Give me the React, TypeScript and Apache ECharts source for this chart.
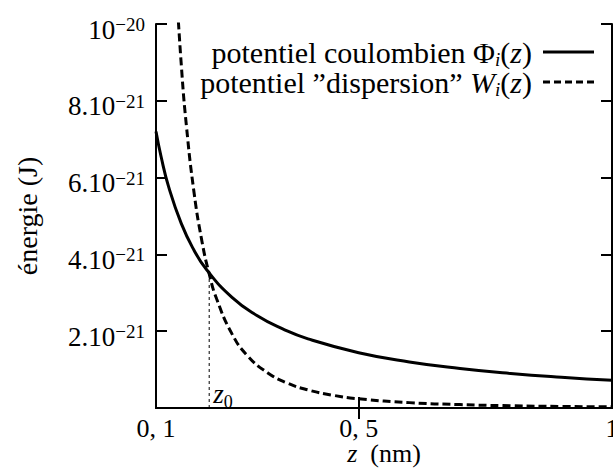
import React, { useEffect, useRef } from "react";
import * as echarts from "echarts";

// z in nm, energies in units of 1e-21 J
const zPhi = [0.1, 0.11, 0.125, 0.15, 0.175, 0.2, 0.25, 0.3, 0.35, 0.4, 0.5, 0.6, 0.7, 0.8, 0.9, 1.0];
const phiValues = [7.2, 6.55, 5.76, 4.8, 4.11, 3.6, 2.88, 2.4, 2.06, 1.8, 1.44, 1.2, 1.03, 0.9, 0.8, 0.72];

const zW = [0.14, 0.15, 0.16, 0.175, 0.19, 0.205, 0.22, 0.25, 0.28, 0.32, 0.36, 0.4, 0.45, 0.5, 0.6, 0.7, 0.8, 0.9, 1.0];
const wValues = [11.0, 8.92, 7.35, 5.62, 4.39, 3.49, 2.83, 1.93, 1.37, 0.92, 0.645, 0.47, 0.33, 0.24, 0.14, 0.088, 0.059, 0.041, 0.03];

const z0 = 0.205;
const z0Energy = 3.55;

const xTickValues = [0.1, 0.5, 1];
const xTickLabels = ["0, 1", "0, 5", "1"];
const yTickValues = [0, 2, 4, 6, 8, 10];
const yTickMantissa = ["", "2.10", "4.10", "6.10", "8.10", "10"];
const yTickExponent = ["", "−21", "−21", "−21", "−21", "−20"];

const FONT = "'Liberation Serif', 'DejaVu Serif', serif";

export default function App() {
  const ref = useRef<HTMLDivElement>(null);
  useEffect(() => {
    if (!ref.current) return;
    const chart = echarts.init(ref.current, null, { renderer: "svg" });
    const axisLine = { show: true, lineStyle: { color: "#000", width: 2 } };
    const tick = { show: true, inside: true, length: 11, lineStyle: { color: "#000", width: 2 } };
    const supRich = {
      b: { fontFamily: FONT, fontSize: 27, lineHeight: 28, verticalAlign: "bottom", color: "#000" },
      sup: { fontFamily: FONT, fontSize: 19, lineHeight: 19, verticalAlign: "top", color: "#000" },
    };
    const LF = 30;
    const legendRich = {
      n: { fontFamily: FONT, fontSize: LF, fill: "#000", color: "#000" },
      it: { fontFamily: FONT, fontStyle: "italic", fontSize: LF, fill: "#000", color: "#000" },
      sub: { fontFamily: FONT, fontStyle: "italic", fontSize: 19, fill: "#000", color: "#000", verticalAlign: "bottom", padding: [15, 0, 0, 0] },
    };
    const NF = 26;
    const nameRich = {
      n: { fontFamily: FONT, fontSize: NF, color: "#000", lineHeight: 20 },
      it: { fontFamily: FONT, fontStyle: "italic", fontSize: NF, color: "#000", lineHeight: 20 },
    };
    const yNameRich = {
      n: { fontFamily: FONT, fontSize: 28, color: "#000", lineHeight: 22 },
    };
    const option: any = {
      animation: false,
      backgroundColor: "#fff",
      textStyle: { fontFamily: FONT, color: "#000" },
      grid: { left: 156, right: 1, top: 24, bottom: 60, show: false, containLabel: false, outerBoundsMode: "none" },
      xAxis: [
        {
          type: "value",
          min: 0.1,
          max: 1,
          position: "bottom",
          axisLine,
          axisTick: { ...tick, customValues: [0.5] },
          splitLine: { show: false },
          axisLabel: {
            customValues: xTickValues,
            formatter: (v: number) => {
              const i = xTickValues.findIndex((t) => Math.abs(t - v) < 1e-9);
              return i >= 0 ? xTickLabels[i] : "";
            },
            fontFamily: FONT,
            fontSize: 26,
            lineHeight: 22,
            color: "#000",
            margin: 9,
            hideOverlap: false,
          },
          name: "{it|z}{n|  (nm)}",
          nameLocation: "middle",
          nameGap: 35,
          nameMoveOverlap: false,
          nameTextStyle: {
            fontFamily: FONT,
            fontSize: NF,
            color: "#000",
            lineHeight: 20,
            rich: nameRich,
          },
        },
        {
          type: "value",
          min: 0.1,
          max: 1,
          position: "top",
          axisLine,
          axisTick: { ...tick, customValues: [0.5] },
          axisLabel: { show: false },
          splitLine: { show: false },
        },
      ],
      yAxis: [
        {
          type: "value",
          min: 0,
          max: 10,
          interval: 2,
          position: "left",
          axisLine,
          axisTick: tick,
          splitLine: { show: false },
          axisLabel: {
            formatter: (v: number) => {
              const i = yTickValues.indexOf(Math.round(v));
              if (i <= 0) return "";
              return `{b|${yTickMantissa[i]}}{sup|${yTickExponent[i]}}`;
            },
            rich: supRich,
            margin: 11,
            padding: [10, 0, 0, 0],
          },
          name: "{n|énergie (J)}",
          nameLocation: "middle",
          nameGap: 118,
          nameMoveOverlap: false,
          nameTextStyle: { fontFamily: FONT, fontSize: 28, color: "#000", rich: yNameRich },
        },
        {
          type: "value",
          min: 0,
          max: 10,
          interval: 2,
          position: "right",
          axisLine,
          axisTick: tick,
          axisLabel: { show: false },
          splitLine: { show: false },
        },
      ],
      series: [
        {
          name: "potentiel coulombien",
          type: "line",
          data: zPhi.map((z, i) => [z, phiValues[i]]),
          showSymbol: false,
          smooth: true,
          lineStyle: { color: "#000", width: 3 },
          clip: true,
        },
        {
          name: "potentiel dispersion",
          type: "line",
          data: zW.map((z, i) => [z, wValues[i]]),
          showSymbol: false,
          smooth: true,
          lineStyle: { color: "#000", width: 3, type: [8, 4] },
          clip: true,
        },
        {
          name: "z0",
          type: "line",
          data: [
            {
              value: [z0, 0],
              label: {
                show: true,
                position: "right",
                offset: [-1, -14],
                formatter: "{it|z}{sub|0}",
                rich: {
                  it: { fontFamily: FONT, fontStyle: "italic", fontSize: 27, color: "#000", lineHeight: 26 },
                  sub: { fontFamily: FONT, fontSize: 18, color: "#000", lineHeight: 16, padding: [16, 0, 0, 0] },
                },
              },
            },
            [z0, z0Energy],
          ],
          symbol: "circle",
          symbolSize: 0.01,
          lineStyle: { color: "#000", width: 1, type: [3, 3] },
          itemStyle: { color: "#000" },
          label: { show: false },
        },
      ],
      graphic: [
        {
          type: "text",
          style: {
            text: "{n|potentiel coulombien Φ}{sub|i}{n|(}{it|z}{n|)}",
            x: 532,
            y: 52,
            align: "right",
            verticalAlign: "middle",
            fontFamily: FONT,
            fontSize: LF,
            fill: "#000",
            rich: legendRich,
          },
        },
        {
          type: "line",
          shape: { x1: 543, y1: 52, x2: 594, y2: 52 },
          style: { stroke: "#000", lineWidth: 3 },
        },
        {
          type: "text",
          style: {
            text: "{n|potentiel ”dispersion” }{it|W}{sub|i}{n|(}{it|z}{n|)}",
            x: 532,
            y: 82,
            align: "right",
            verticalAlign: "middle",
            fontFamily: FONT,
            fontSize: LF,
            fill: "#000",
            rich: legendRich,
          },
        },
        {
          type: "line",
          shape: { x1: 543, y1: 82, x2: 594, y2: 82 },
          style: { stroke: "#000", lineWidth: 3, lineDash: [7, 4] },
        },
      ],
    };
    chart.setOption(option);
    return () => chart.dispose();
  }, []);
  return (
    <div
      ref={ref}
      style={{ position: "absolute", left: 0, top: 0, width: 613, height: 468 }}
    />
  );
}
